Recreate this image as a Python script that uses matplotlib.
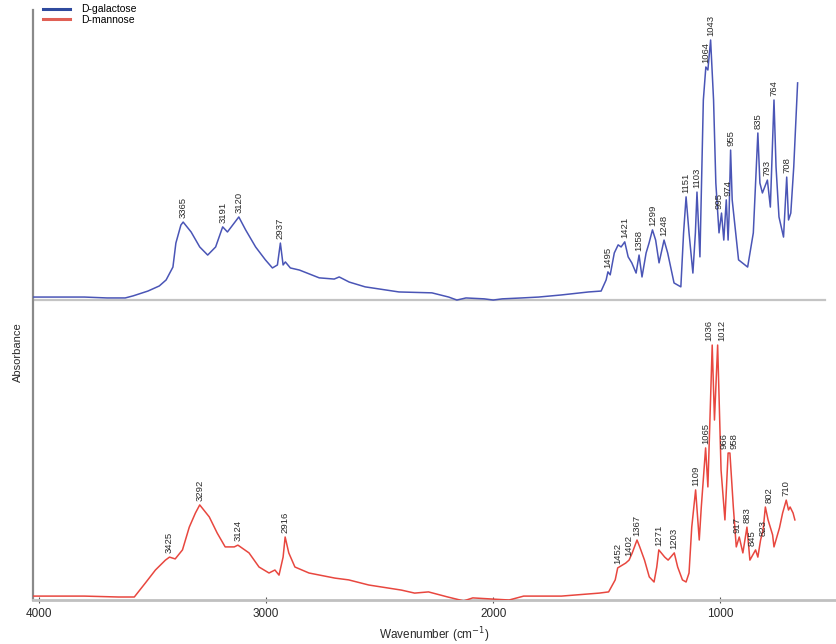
import numpy as np
import matplotlib
matplotlib.use("Agg")
import matplotlib.pyplot as plt

plt.rcParams['font.family'] = ['Liberation Sans', 'DejaVu Sans']

# FTIR spectra, absorbance in arbitrary units
wn_gal = [4026, 3800, 3700, 3620, 3585, 3520, 3470, 3440, 3410, 3397, 3375, 3365,
          3330, 3292, 3257, 3222, 3191, 3170, 3150, 3120, 3090, 3046, 3003, 2972,
          2950, 2937, 2925, 2915, 2893, 2853, 2766, 2700, 2678, 2634, 2564, 2415,
          2270, 2196, 2160, 2120, 2040, 2000, 1960, 1875, 1800, 1700, 1580, 1525,
          1503, 1495, 1485, 1467, 1450, 1437, 1421, 1406, 1390, 1371, 1358, 1345,
          1327, 1314, 1299, 1285, 1270, 1248, 1232, 1204, 1174, 1162, 1151, 1138,
          1121, 1110, 1103, 1090, 1075, 1064, 1055, 1043, 1030, 1020, 1006, 995,
          985, 974, 966, 962, 955, 948, 920, 880, 855, 835, 826, 815, 793, 780,
          764, 755, 742, 722, 708, 700, 690, 677, 660]
abs_gal = [0.003, 0.003, 0.0, 0.0, 0.007, 0.023, 0.040, 0.060, 0.103, 0.183, 0.243, 0.253,
           0.220, 0.170, 0.143, 0.170, 0.237, 0.220, 0.240, 0.270, 0.227, 0.170, 0.127, 0.100,
           0.110, 0.183, 0.110, 0.120, 0.100, 0.093, 0.067, 0.063, 0.070, 0.053, 0.037, 0.020,
           0.017, 0.003, -0.007, 0.0, -0.003, -0.007, -0.003, 0.0, 0.003, 0.010, 0.020, 0.023,
           0.060, 0.087, 0.077, 0.150, 0.177, 0.170, 0.187, 0.137, 0.117, 0.083, 0.143, 0.070,
           0.150, 0.183, 0.227, 0.193, 0.117, 0.193, 0.150, 0.050, 0.037, 0.217, 0.337, 0.217,
           0.083, 0.217, 0.353, 0.137, 0.660, 0.770, 0.760, 0.860, 0.660, 0.383, 0.217, 0.283,
           0.193, 0.327, 0.193, 0.270, 0.493, 0.327, 0.127, 0.103, 0.217, 0.550, 0.383, 0.350,
           0.393, 0.303, 0.660, 0.437, 0.270, 0.203, 0.403, 0.260, 0.283, 0.437, 0.717]

wn_man = [4026, 3800, 3650, 3580, 3531, 3487, 3443, 3425, 3400, 3368, 3338, 3311,
          3292, 3250, 3215, 3180, 3140, 3124, 3075, 3031, 2987, 2961, 2943, 2925,
          2916, 2900, 2873, 2811, 2697, 2636, 2548, 2404, 2346, 2285, 2200, 2130,
          2090, 2000, 1930, 1866, 1700, 1533, 1492, 1463, 1452, 1417, 1402, 1388,
          1367, 1355, 1334, 1313, 1292, 1280, 1271, 1245, 1230, 1203, 1188, 1167,
          1151, 1138, 1126, 1109, 1093, 1084, 1065, 1055, 1036, 1026, 1012, 997,
          980, 966, 958, 943, 930, 917, 901, 883, 870, 845, 835, 823, 812, 802,
          790, 770, 764, 740, 726, 710, 700, 693, 680, 672]
abs_man = [0.003, 0.003, 0.0, 0.0, 0.047, 0.090, 0.123, 0.133, 0.127, 0.157, 0.233, 0.280,
           0.307, 0.267, 0.213, 0.167, 0.167, 0.173, 0.147, 0.100, 0.080, 0.090, 0.073, 0.133,
           0.200, 0.147, 0.100, 0.080, 0.063, 0.057, 0.040, 0.023, 0.013, 0.017, 0.0, -0.013,
           -0.003, -0.007, -0.010, 0.003, 0.003, 0.013, 0.017, 0.057, 0.097, 0.113, 0.123, 0.147,
           0.190, 0.167, 0.123, 0.067, 0.050, 0.100, 0.157, 0.133, 0.123, 0.147, 0.100, 0.057,
           0.050, 0.080, 0.233, 0.357, 0.190, 0.300, 0.497, 0.367, 0.840, 0.590, 0.840, 0.423,
           0.257, 0.480, 0.480, 0.300, 0.167, 0.200, 0.147, 0.233, 0.123, 0.157, 0.133, 0.190,
           0.223, 0.300, 0.257, 0.207, 0.167, 0.230, 0.280, 0.323, 0.290, 0.300, 0.280, 0.257]

peaks_gal = [3365, 3191, 3120, 2937, 1495, 1421, 1358, 1299, 1248, 1151, 1103,
             1064, 1043, 995, 974, 955, 835, 793, 764, 708]
peaks_man = [3425, 3292, 3124, 2916, 1452, 1402, 1367, 1271, 1203, 1109, 1065,
             1036, 1012, 966, 958, 917, 883, 845, 823, 802, 710]

# sideways nudges (points) for crowded labels
nudge_gal = {995: -2.0, 974: 1.5}
nudge_man = {1036: -2.8, 1012: 2.8, 966: -3.2, 958: 3.2, 917: -1.5,
             845: -2.5, 823: 2.0, 802: 2.5}

off_gal = 1.007
off_man = 0.010

c_gal = '#4a55b6'
c_man = '#e8473f'

fig = plt.figure(figsize=(8.36, 6.44), dpi=100)
ax = fig.add_axes([33/836, 44/644, 803/836, 590/644])

wg = np.array(wn_gal)
ag = np.array(abs_gal) + off_gal
wm = np.array(wn_man)
am = np.array(abs_man) + off_man

ax.axhline(1.0, xmin=0, xmax=0.986, color='#c4c4c4', lw=1.6, zorder=1)
ax.plot(wg, ag, color=c_gal, lw=1.1, zorder=3)
ax.plot(wm, am, color=c_man, lw=1.1, zorder=3)

# peak labels, rotated above each band
for w, a, peaks, nudge in [(wg, ag, peaks_gal, nudge_gal), (wm, am, peaks_man, nudge_man)]:
    for p in peaks:
        y = a[list(w).index(p)]
        ax.annotate(str(p), (p, y), xytext=(nudge.get(p, 0), 3), textcoords='offset points',
                    rotation=90, ha='center', va='bottom', fontsize=6.8,
                    color='#2a2a2a')

ax.set_xlim(4026, 491)
ax.set_ylim(0, 1.967)
ax.set_xticks([4000, 3000, 2000, 1000])
ax.set_yticks([])
ax.tick_params(axis='x', direction='inout', length=5, width=0.8, color='#555555',
               labelsize=8.5, labelcolor='#2a2a2a', pad=3)

for s in ['top', 'right']:
    ax.spines[s].set_visible(False)
ax.spines['left'].set_color('#8a8a8a')
ax.spines['left'].set_linewidth(1.6)
ax.spines['bottom'].set_color('#c0c0c0')
ax.spines['bottom'].set_linewidth(2.0)

ax.set_xlabel('Wavenumber (cm$^{-1}$)', fontsize=8.5, color='#2a2a2a', labelpad=4)
ax.set_ylabel('Absorbance', fontsize=8, color='#2a2a2a', labelpad=6)
ax.yaxis.set_label_coords(-0.012, 0.42)

ax.plot([], [], color='#2f4a9e', lw=2.2, label='D-galactose')
ax.plot([], [], color='#e06055', lw=2.2, label='D-mannose')
handles, labels = ax.get_legend_handles_labels()
ax.legend(handles[-2:], labels[-2:], loc='upper left', bbox_to_anchor=(0.005, 1.02),
          frameon=False, fontsize=7.5, handlelength=2.6, handletextpad=1.0,
          labelspacing=0.05, borderaxespad=0.2)

fig.savefig('out.png', dpi=100)
